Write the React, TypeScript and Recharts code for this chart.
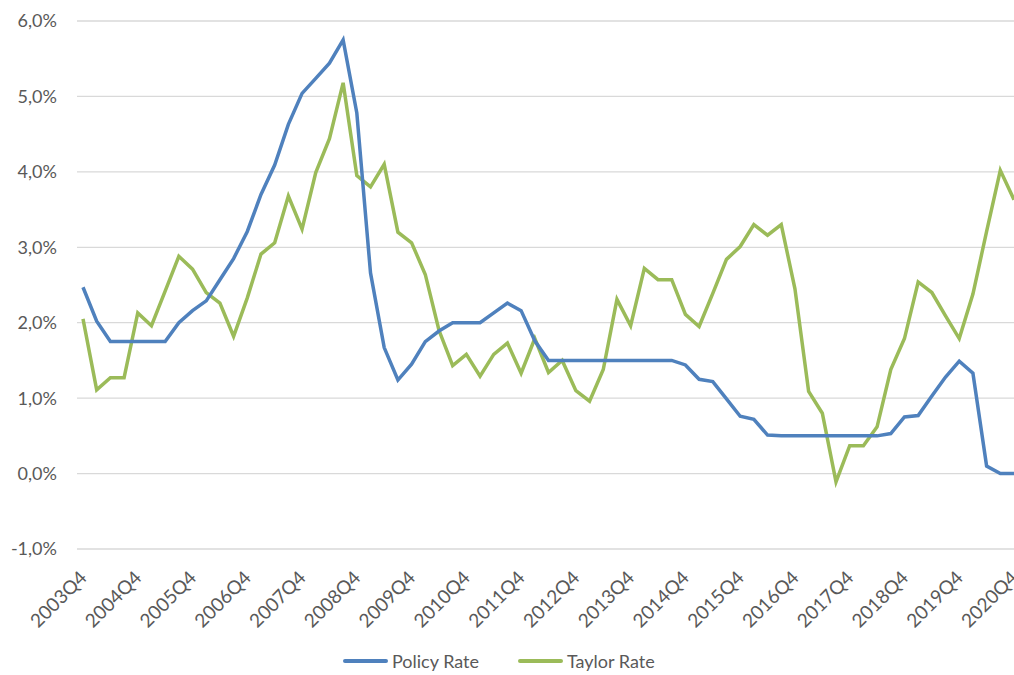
import { LineChart, Line, XAxis, YAxis, CartesianGrid } from "recharts";

const years = [2003, 2004, 2005, 2006, 2007, 2008, 2009, 2010, 2011, 2012, 2013, 2014, 2015, 2016, 2017, 2018, 2019, 2020];

// quarterly labels 2003Q4 .. 2020Q4
const quarters = years.flatMap((yr) =>
  yr === 2003 ? [`${yr}Q4`] : [`${yr}Q1`, `${yr}Q2`, `${yr}Q3`, `${yr}Q4`]
);

const policyRate = [
  2.47, 2.02, 1.75, 1.75, 1.75, 1.75, 1.75, 2.0, 2.16, 2.29, 2.57, 2.85, 3.21, 3.7, 4.09, 4.63, 5.04, 5.24, 5.44,
  5.75, 4.78, 2.66, 1.67, 1.24, 1.45, 1.75, 1.89, 2.0, 2.0, 2.0, 2.13, 2.26, 2.16, 1.76, 1.5, 1.5, 1.5, 1.5, 1.5,
  1.5, 1.5, 1.5, 1.5, 1.5, 1.44, 1.25, 1.22, 0.99, 0.76, 0.72, 0.51, 0.5, 0.5, 0.5, 0.5, 0.5, 0.5, 0.5, 0.5, 0.53,
  0.75, 0.77, 1.03, 1.28, 1.49, 1.33, 0.1, 0.0, 0.0,
];

const taylorRate = [
  2.05, 1.11, 1.27, 1.27, 2.13, 1.96, 2.42, 2.88, 2.71, 2.4, 2.26, 1.82, 2.33, 2.91, 3.06, 3.68, 3.24, 3.99, 4.44,
  5.18, 3.95, 3.8, 4.1, 3.2, 3.06, 2.64, 1.9, 1.43, 1.58, 1.29, 1.58, 1.73, 1.33, 1.79, 1.34, 1.5, 1.1, 0.96, 1.38,
  2.31, 1.96, 2.72, 2.57, 2.57, 2.11, 1.95, 2.39, 2.84, 3.01, 3.3, 3.16, 3.3, 2.45, 1.09, 0.8, -0.11, 0.37, 0.37,
  0.62, 1.38, 1.79, 2.54, 2.4, 2.09, 1.79, 2.38, 3.21, 4.02, 3.63,
];

const yTicks = [-1, 0, 1, 2, 3, 4, 5, 6];

const data = quarters.map((q, i) => ({ q, policy: policyRate[i], taylor: taylorRate[i] }));

const FONT = "Lato, 'Noto Sans', sans-serif";
const TEXT = "#595959";
const BLUE = "#4F81BD";
const GREEN = "#9BBB59";

const XTick = ({ x, y, payload }: any) => (
  <g transform={`translate(${x + 5},${y + 30})`}>
    <text transform="rotate(-45)" textAnchor="end" fill={TEXT} fontSize={19} fontFamily={FONT}>
      {payload.value}
    </text>
  </g>
);

const legendText = { position: "absolute" as const, top: 650, fontFamily: FONT, fontSize: 18, color: TEXT, lineHeight: "22px" };
const legendLine = { position: "absolute" as const, top: 659, width: 45, height: 4, borderRadius: 2 };

const LegendBox = () => (
  <>
    <div style={{ ...legendLine, left: 343, background: BLUE }} />
    <div style={{ ...legendText, left: 392 }}>Policy Rate</div>
    <div style={{ ...legendLine, left: 518, background: GREEN }} />
    <div style={{ ...legendText, left: 567 }}>Taylor Rate</div>
  </>
);

export default function App() {
  return (
    <div style={{ position: "absolute", left: 0, top: 0, width: 1014, height: 675, overflow: "hidden", background: "#fff" }}>
      <LineChart width={1030} height={675} data={data} margin={{ top: 21, right: 9, left: 0, bottom: 0 }}>
        <CartesianGrid vertical={false} stroke="#D9D9D9" strokeWidth={1.3} />
        <XAxis
          dataKey="q"
          interval={3}
          axisLine={false}
          tickLine={false}
          tickSize={0}
          tickMargin={0}
          padding={{ left: 6, right: 7 }}
          tick={<XTick />}
          height={126}
        />
        <YAxis
          domain={[-1, 6]}
          ticks={yTicks}
          width={77}
          axisLine={false}
          tickLine={false}
          tickSize={0}
          tickMargin={20}
          tickFormatter={(v: number) => v.toFixed(1).replace(".", ",") + "%"}
          tick={{ fill: TEXT, fontSize: 18, fontFamily: FONT }}
        />
        <Line type="linear" dataKey="taylor" stroke={GREEN} strokeWidth={3.5} dot={false} isAnimationActive={false} />
        <Line type="linear" dataKey="policy" stroke={BLUE} strokeWidth={3.5} dot={false} isAnimationActive={false} />
      </LineChart>
      <LegendBox />
    </div>
  );
}
